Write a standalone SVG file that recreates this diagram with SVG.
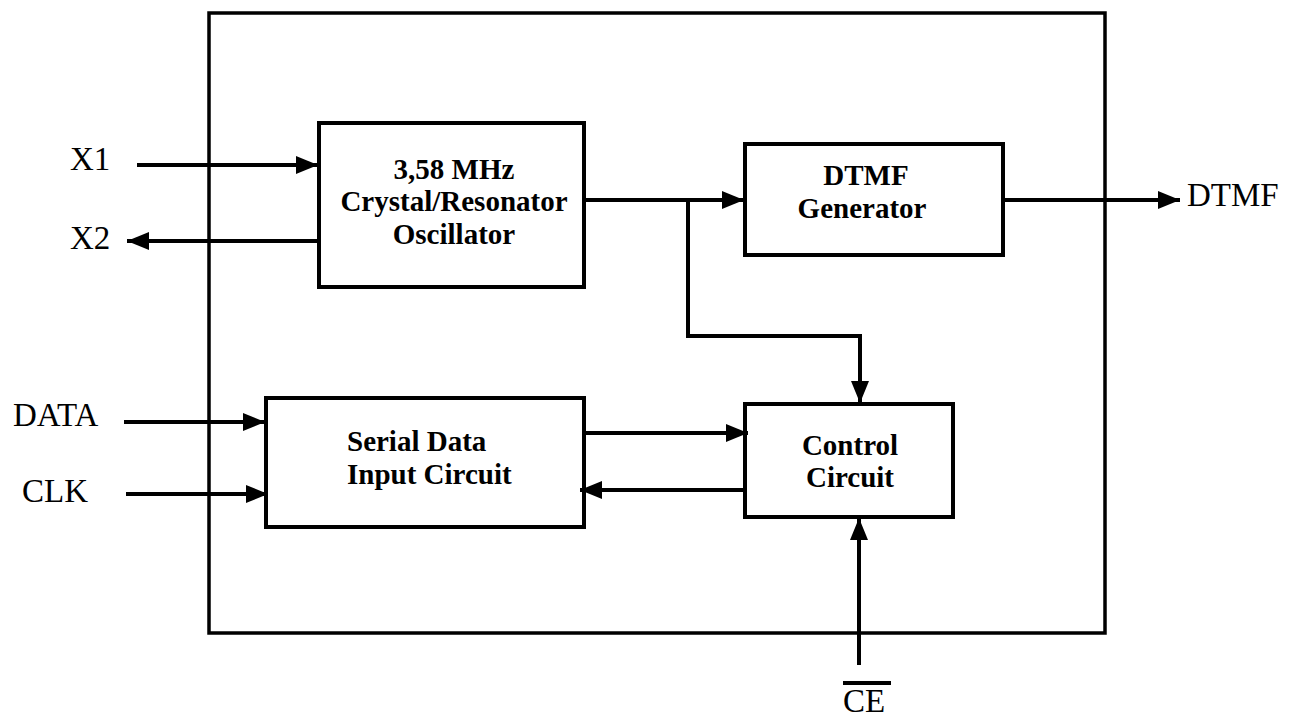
<svg xmlns="http://www.w3.org/2000/svg" width="1297" height="718" viewBox="0 0 1297 718">
<defs>
<style>
.box{fill:#fff;stroke:#000;stroke-width:4}
.ln{fill:none;stroke:#000;stroke-width:4}
.bt{font-family:"Liberation Serif","Times New Roman",serif;font-weight:bold;font-size:29px;text-anchor:middle;fill:#000}
.lb{font-family:"Liberation Serif","Times New Roman",serif;font-size:33px;fill:#000}
</style>
<marker id="ah" viewBox="0 0 10 10" refX="10" refY="5" markerWidth="5.5" markerHeight="4.5" orient="auto" markerUnits="strokeWidth" preserveAspectRatio="none">
<path d="M0,0 L10,5 L0,10 z" fill="#000"/>
</marker>
</defs>
<rect id="outer" x="209" y="13" width="896" height="620" fill="none" stroke="#000" stroke-width="3.5"/>
<g id="oscillator">
<rect class="box" x="319" y="123" width="265" height="164"/>
<text class="bt" x="454" y="179">3,58 MHz</text>
<text class="bt" x="454" y="211">Crystal/Resonator</text>
<text class="bt" x="454" y="244">Oscillator</text>
</g>
<g id="dtmfgen">
<rect class="box" x="745" y="144" width="258" height="111"/>
<text class="bt" x="866" y="185">DTMF</text>
<text class="bt" x="862" y="218">Generator</text>
</g>
<g id="serial">
<rect class="box" x="266" y="398" width="318" height="129"/>
<text class="bt" x="347" y="451" style="text-anchor:start">Serial Data</text>
<text class="bt" x="347" y="484" style="text-anchor:start">Input Circuit</text>
</g>
<g id="control">
<rect class="box" x="745" y="404" width="208" height="113"/>
<text class="bt" x="850" y="455">Control</text>
<text class="bt" x="850" y="487">Circuit</text>
</g>
<g id="labels">
<text class="lb" x="70" y="170">X1</text>
<text class="lb" x="70" y="249">X2</text>
<text class="lb" x="13" y="426">DATA</text>
<text class="lb" x="22" y="502">CLK</text>
<text class="lb" x="1187" y="206">DTMF</text>
<text class="lb" x="843" y="712">CE</text>
<line x1="843" y1="683" x2="891" y2="683" stroke="#000" stroke-width="4"/>
</g>
<g id="connectors">
<line class="ln" x1="137" y1="165" x2="318" y2="165" marker-end="url(#ah)"/>
<line class="ln" x1="319" y1="241" x2="127" y2="241" marker-end="url(#ah)"/>
<line class="ln" x1="584" y1="200" x2="744" y2="200" marker-end="url(#ah)"/>
<polyline class="ln" points="688,200 688,336 860,336 860,403" marker-end="url(#ah)"/>
<line class="ln" x1="1003" y1="200" x2="1180" y2="200" marker-end="url(#ah)"/>
<line class="ln" x1="124" y1="422" x2="265" y2="422" marker-end="url(#ah)"/>
<line class="ln" x1="126" y1="494" x2="268" y2="494" marker-end="url(#ah)"/>
<line class="ln" x1="584" y1="433" x2="748" y2="433" marker-end="url(#ah)"/>
<line class="ln" x1="745" y1="490" x2="580" y2="490" marker-end="url(#ah)"/>
<line class="ln" x1="859" y1="665" x2="859" y2="518" marker-end="url(#ah)"/>
</g>
</svg>
